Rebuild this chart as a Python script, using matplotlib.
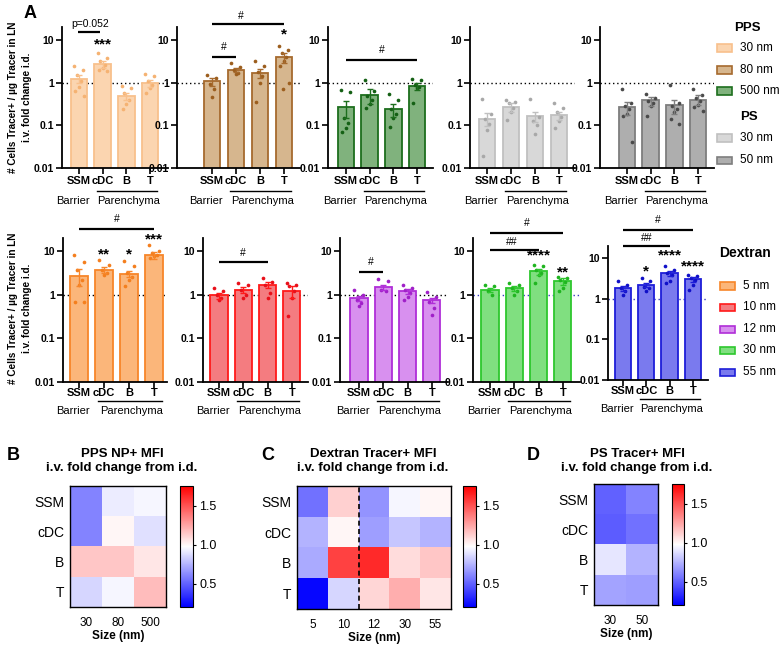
import matplotlib
matplotlib.use('Agg')
import matplotlib.pyplot as plt
from matplotlib.colors import Normalize
from matplotlib.patches import Rectangle
from matplotlib.ticker import NullLocator
import numpy as np

plt.rcParams['font.family'] = ['Liberation Sans', 'DejaVu Sans']

categories = ['SSM', 'cDC', 'B', 'T']

# panel A, top row: PPS / PS tracers
pps30_mean = [1.24, 2.72, 0.48, 0.98]
pps30_sem = [0.26, 0.48, 0.09, 0.19]
pps30_pts = [[2.4, 2.0, 1.53, 1.07, 0.79, 0.63, 0.48],
             [4.9, 3.75, 3.13, 2.6, 2.2, 2.0, 1.83],
             [0.85, 0.75, 0.58, 0.40, 0.31, 0.24],
             [1.6, 1.4, 1.07, 0.9, 0.75, 0.58]]

pps80_mean = [1.07, 2.0, 1.68, 3.88]
pps80_sem = [0.23, 0.2, 0.37, 1.02]
pps80_pts = [[1.5, 1.3, 0.95, 0.72, 0.45],
             [2.8, 2.3, 2.0, 1.7, 1.6],
             [3.2, 2.4, 1.8, 1.4, 1.0, 0.35],
             [7.0, 5.9, 4.8, 4.0, 3.2, 2.5, 1.0, 0.7]]

pps500_mean = [0.26, 0.50, 0.235, 0.82]
pps500_sem = [0.11, 0.19, 0.075, 0.16]
pps500_pts = [[0.66, 0.6, 0.15, 0.115, 0.088, 0.07],
              [1.17, 0.63, 0.48, 0.40, 0.31, 0.26],
              [0.53, 0.40, 0.235, 0.18, 0.15, 0.09],
              [1.22, 1.17, 0.9, 0.79, 0.75, 0.34]]

ps30_mean = [0.143, 0.27, 0.16, 0.17]
ps30_sem = [0.047, 0.06, 0.04, 0.04]
ps30_pts = [[0.42, 0.18, 0.138, 0.106, 0.078, 0.019],
            [0.40, 0.36, 0.33, 0.25, 0.2, 0.13],
            [0.42, 0.16, 0.125, 0.1, 0.062],
            [0.33, 0.25, 0.2, 0.16, 0.125, 0.087]]

ps50_mean = [0.26, 0.38, 0.29, 0.40]
ps50_sem = [0.09, 0.09, 0.11, 0.10]
ps50_pts = [[0.71, 0.34, 0.28, 0.235, 0.18, 0.165, 0.041],
            [0.55, 0.44, 0.37, 0.34, 0.29, 0.165],
            [0.9, 0.34, 0.29, 0.235, 0.2, 0.14, 0.106],
            [0.71, 0.5, 0.44, 0.37, 0.3, 0.27, 0.22]]

# panel A, bottom row: dextran tracers
dex5_mean = [2.73, 3.75, 2.99, 8.0]
dex5_sem = [1.17, 0.55, 0.44, 1.5]
dex5_pts = [[8.3, 5.6, 3.75, 2.2, 1.7, 0.70, 0.68],
            [6.4, 4.9, 3.75, 3.15, 2.9],
            [5.8, 4.5, 3.15, 2.6, 2.2, 1.55],
            [14.0, 9.9, 9.1, 8.3, 7.6, 7.0]]

dex10_mean = [0.97, 1.3, 1.7, 1.2]
dex10_sem = [0.15, 0.2, 0.3, 0.35]
dex10_pts = [[1.42, 1.19, 1.0, 0.84, 0.77],
             [1.86, 1.7, 1.3, 1.0, 0.84],
             [2.4, 2.0, 1.7, 1.1, 0.84],
             [1.86, 1.7, 1.55, 1.19, 0.84, 0.32]]

dex12_mean = [0.82, 1.47, 1.19, 0.74]
dex12_sem = [0.1, 0.2, 0.15, 0.1]
dex12_pts = [[1.3, 1.0, 0.77, 0.64, 0.54],
             [2.3, 2.1, 1.3, 1.19],
             [1.7, 1.4, 1.3, 1.1, 0.9, 0.77],
             [1.13, 0.91, 0.70, 0.49, 0.35]]

dex30_mean = [1.3, 1.42, 3.43, 2.02]
dex30_sem = [0.15, 0.18, 0.55, 0.35]
dex30_pts = [[1.7, 1.55, 1.19, 1.0],
             [1.86, 1.7, 1.42, 1.19, 1.0],
             [4.9, 4.5, 3.75, 3.15, 2.9, 1.86],
             [2.6, 2.4, 2.2, 2.0, 1.42, 1.19]]

dex55_mean = [1.84, 2.2, 4.3, 3.06]
dex55_sem = [0.25, 0.3, 0.6, 0.45]
dex55_pts = [[2.67, 2.2, 1.84, 1.52, 1.25],
             [3.24, 2.67, 2.0, 1.84, 1.52],
             [6.5, 5.2, 4.3, 3.9, 2.67, 2.44],
             [3.9, 3.56, 3.24, 2.95, 2.2, 1.67]]

# panels B-D: MFI fold change heatmaps (rows SSM, cDC, B, T)
pps_sizes = ['30', '80', '500']
pps_mfi = [[0.6, 0.92, 0.95],
           [0.6, 1.0, 0.88],
           [1.15, 1.15, 1.05],
           [0.85, 0.95, 1.18]]
dex_sizes = ['5', '10', '12', '30', '55']
dex_mfi = [[0.55, 1.12, 0.65, 0.95, 1.0],
           [0.75, 1.0, 0.68, 0.8, 0.75],
           [0.72, 1.55, 1.62, 1.08, 1.15],
           [0.22, 0.85, 1.1, 1.22, 1.05]]
ps_sizes = ['30', '50']
ps_mfi = [[0.5, 0.6],
          [0.48, 0.55],
          [0.9, 0.75],
          [0.7, 0.68]]

W, H = 783, 648
fig = plt.figure(figsize=(W / 100, H / 100), dpi=100)
jitter = [-0.2, 0.18, -0.1, 0.1, 0.0, -0.16, 0.2, -0.05, 0.12]


def px_axes(x0, y0, x1, y1):
    return fig.add_axes([x0 / W, 1 - y1 / H, (x1 - x0) / W, (y1 - y0) / H])


def fig_text(x, y, s, **kw):
    return fig.text(x / W, 1 - y / H, s, **kw)


def bar_panel(box, first, step, mean, sem, pts, fill, edge, dot, label_y, dot_line='black'):
    x0, y0, x1, y1 = box
    ax = px_axes(x0, y0, x1, y1)
    ax.set_yscale('log')
    xs = np.arange(4)
    ax.bar(xs, mean, width=0.7, bottom=0.001, color=fill, edgecolor=edge, lw=1.3, zorder=2)
    ax.errorbar(xs, mean, yerr=sem, fmt='none', ecolor=edge, elinewidth=1, capsize=2.5,
                capthick=1, zorder=4)
    for i, p in enumerate(pts):
        ax.scatter(i + np.array(jitter[:len(p)]), p, s=7, color=dot, lw=0, zorder=3)
    ax.axhline(1, color=dot_line, lw=1, ls=(0, (1, 2)), zorder=1)
    ax.set_ylim(0.01, 20)
    ax.set_xlim((x0 - first) / step, (x1 - first) / step)
    ax.set_yticks([0.01, 0.1, 1, 10])
    ax.set_yticklabels(['0.01', '0.1', '1', '10'], fontweight='bold', fontsize=7.5)
    ax.yaxis.set_minor_locator(NullLocator())
    ax.set_xticks(xs)
    ax.set_xticklabels([])
    ax.tick_params(length=4, width=1.2, pad=2)
    for s in ['top', 'right']:
        ax.spines[s].set_visible(False)
    for s in ['left', 'bottom']:
        ax.spines[s].set_linewidth(1.3)
    # distances (px) below the x axis of the three label rows
    yb, yl, yt = [v - y1 for v in label_y]
    for i, c in enumerate(categories):
        ax.annotate(c, xy=(i, 0), xycoords=('data', 'axes fraction'), xytext=(0, -yb),
                    textcoords='offset pixels', ha='center', va='center',
                    fontsize=8, fontweight='bold')
    ax.annotate('Barrier', xy=(-0.25, 0), xycoords=('data', 'axes fraction'), xytext=(0, -yt),
                textcoords='offset pixels', ha='center', va='center', fontsize=8)
    ax.annotate('Parenchyma', xy=(2.1, 0), xycoords=('data', 'axes fraction'), xytext=(0, -yt),
                textcoords='offset pixels', ha='center', va='center', fontsize=8)
    ax.plot([0.75, 3.3], [-yl / (y1 - y0)] * 2, transform=ax.get_xaxis_transform(),
            color='black', lw=1, clip_on=False)
    return ax


def sig_line(ax, xa, xb, y, lw=1.6):
    ax.plot([xa, xb], [y, y], color='black', lw=lw, clip_on=False, solid_capstyle='butt')


def sig_text(ax, x, y, s, size=7.5, bold=False):
    ax.text(x, y, s, ha='center', va='center', fontsize=size,
            fontweight='bold' if bold else 'normal', clip_on=False)


top_labels = (181, 191, 201)
bot_labels = (393, 401, 411)

ax1 = bar_panel((62, 27, 168, 168), 79, 23.7, pps30_mean, pps30_sem, pps30_pts,
                '#fbd5b0', '#f8c08c', '#f5b272', top_labels)
sig_text(ax1, 0.45, 23.5, 'p=0.052')
sig_line(ax1, -0.05, 0.9, 15.3)
sig_text(ax1, 1, 8.0, '***', size=11, bold=True)

ax2 = bar_panel((177, 27, 300, 168), 212, 24, pps80_mean, pps80_sem, pps80_pts,
                '#d6b68e', '#a66a2e', '#9c5e1e', top_labels)
sig_text(ax2, 1.2, 36, '#')
sig_line(ax2, 0, 3, 23.5)
sig_text(ax2, 0.5, 6.9, '#')
sig_line(ax2, 0, 1, 4.0)
sig_text(ax2, 3, 13.5, '*', size=11, bold=True)

ax3 = bar_panel((328, 27, 433, 168), 346, 23.7, pps500_mean, pps500_sem, pps500_pts,
                '#80b27d', '#1d6e1d', '#146014', top_labels)
sig_text(ax3, 1.5, 5.8, '#')
sig_line(ax3, 0, 3, 3.4)

ax4 = bar_panel((470, 27, 575, 168), 487, 24, ps30_mean, ps30_sem, ps30_pts,
                '#d8d8d8', '#c0c0c0', '#a8a8a8', top_labels)

ax5 = bar_panel((600, 27, 714, 168), 627, 23.7, ps50_mean, ps50_sem, ps50_pts,
                '#aeaeae', '#7e7e7e', '#4a4a4a', top_labels)

ax6 = bar_panel((63, 238, 167, 382), 79, 25, dex5_mean, dex5_sem, dex5_pts,
                '#fbb67a', '#f7862a', '#f47f1e', bot_labels)
sig_text(ax6, 1.5, 55, '#')
sig_line(ax6, 0, 3, 32.8)
sig_text(ax6, 1, 8.5, '**', size=11, bold=True)
sig_text(ax6, 2, 8.5, '*', size=11, bold=True)
sig_text(ax6, 3, 19, '***', size=11, bold=True)

ax7 = bar_panel((203, 238, 308, 382), 219, 24.3, dex10_mean, dex10_sem, dex10_pts,
                '#f47c80', '#ff1a1a', '#e8101a', bot_labels)
sig_text(ax7, 1, 9.2, '#')
sig_line(ax7, 0, 2, 5.7)

ax8 = bar_panel((340, 238, 448, 382), 359, 24.3, dex12_mean, dex12_sem, dex12_pts,
                '#d890ef', '#b02ed8', '#a020c8', bot_labels)
sig_text(ax8, 0.5, 5.7, '#')
sig_line(ax8, 0, 1, 3.38)

ax9 = bar_panel((473, 238, 580, 382), 490, 24.3, dex30_mean, dex30_sem, dex30_pts,
                '#80df80', '#2ec72e', '#20b520', bot_labels, dot_line='#3a3ac0')
sig_text(ax9, 1.5, 45, '#')
sig_line(ax9, 0, 3, 26.6)
sig_text(ax9, 0.9, 16.6, '##')
sig_line(ax9, 0, 2, 10.8)
sig_text(ax9, 2, 8.0, '****', size=11, bold=True)
sig_text(ax9, 3, 3.3, '**', size=11, bold=True)

ax10 = bar_panel((608, 246, 708, 380), 623, 23.3, dex55_mean, dex55_sem, dex55_pts,
                 '#7a7aee', '#1e1ed8', '#1010c8', (391, 399, 409), dot_line='#3a3ac0')
sig_text(ax10, 1.5, 89, '#')
sig_line(ax10, 0, 3, 50.5)
sig_text(ax10, 1, 32, '##')
sig_line(ax10, 0, 2, 20)
sig_text(ax10, 1, 4.8, '*', size=11, bold=True)
sig_text(ax10, 2, 12, '****', size=11, bold=True)
sig_text(ax10, 3, 6.4, '****', size=11, bold=True)

# y labels and panel letter
ylab = '# Cells Tracer+ / µg Tracer in LN\ni.v. fold change i.d.'
fig_text(20, 97, ylab, rotation=90, ha='center', va='center', fontsize=7.2,
         fontweight='bold', linespacing=1.45)
fig_text(20, 308, ylab, rotation=90, ha='center', va='center', fontsize=7.2,
         fontweight='bold', linespacing=1.45)
fig_text(30, 13, 'A', ha='center', va='center', fontsize=13, fontweight='bold')


def legend_patch(x, y, w, fill, edge):
    fig.add_artist(Rectangle((x / W, 1 - (y + 3.5) / H), w / W, 7 / H, facecolor=fill,
                             edgecolor=edge, lw=1.2, transform=fig.transFigure))


fig_text(747, 28, 'PPS', ha='center', va='center', fontsize=9.5, fontweight='bold')
for y, lab, fc, ec in [(48, '30 nm', '#fbd5b0', '#f8c08c'), (70, '80 nm', '#d6b68e', '#a66a2e'),
                       (91, '500 nm', '#80b27d', '#1d6e1d')]:
    legend_patch(717, y, 15, fc, ec)
    fig_text(740, y, lab, va='center', fontsize=8.5)
fig_text(749, 117, 'PS', ha='center', va='center', fontsize=9.5, fontweight='bold')
for y, lab, fc, ec in [(138, '30 nm', '#d8d8d8', '#c0c0c0'), (160, '50 nm', '#aeaeae', '#7e7e7e')]:
    legend_patch(717, y, 15, fc, ec)
    fig_text(740, y, lab, va='center', fontsize=8.5)

fig_text(745, 253, 'Dextran', ha='center', va='center', fontsize=10, fontweight='bold')
for y, lab, fc, ec in [(286, '5 nm', '#fbb67a', '#f7862a'), (307, '10 nm', '#f47c80', '#ff1a1a'),
                       (329, '12 nm', '#d890ef', '#b02ed8'), (350, '30 nm', '#80df80', '#2ec72e'),
                       (372, '55 nm', '#7a7aee', '#1e1ed8')]:
    legend_patch(720, y, 15, fc, ec)
    fig_text(743, y, lab, va='center', fontsize=8.5)

# heatmaps
norm = Normalize(0.2, 1.75)


def heat_panel(box, cbox, data, sizes, title, title_x, letter, letter_x):
    ax = px_axes(*box)
    im = ax.imshow(np.array(data), cmap='bwr', norm=norm, aspect='auto')
    ax.set_yticks(range(4))
    ax.set_yticklabels(categories, fontsize=10)
    ax.set_xticks(range(len(sizes)))
    ax.set_xticklabels(sizes, fontsize=8.5)
    ax.tick_params(length=0, pad=4)
    ax.tick_params(axis='x', pad=7)
    ax.set_xlabel('Size (nm)', fontsize=8.5, fontweight='bold', labelpad=1)
    for s in ax.spines.values():
        s.set_linewidth(1)
    cax = px_axes(*cbox)
    cb = fig.colorbar(im, cax=cax, ticks=[0.5, 1.0, 1.5])
    cb.ax.set_yticklabels(['0.5', '1.0', '1.5'], fontsize=9)
    cb.ax.tick_params(length=2.5, width=0.8, pad=2)
    cb.outline.set_linewidth(0.8)
    fig_text(title_x, 461, title, ha='center', va='center', fontsize=9.5,
             fontweight='bold', linespacing=1.2)
    fig_text(letter_x, 455, letter, ha='center', va='center', fontsize=13, fontweight='bold')
    return ax


heat_panel((70, 486, 166, 607), (180, 486, 193, 607), pps_mfi, pps_sizes,
           'PPS NP+ MFI\ni.v. fold change from i.d.', 122, 'B', 13)
axc = heat_panel((297, 486, 451, 609), (463, 486, 476, 607), dex_mfi, dex_sizes,
                 'Dextran Tracer+ MFI\ni.v. fold change from i.d.', 373, 'C', 268)
axc.axvline(1.5, color='black', lw=1.2, ls=(0, (3, 2)))
heat_panel((594, 484, 658, 605), (672, 484, 684, 605), ps_mfi, ps_sizes,
           'PS Tracer+ MFI\ni.v. fold change from i.d.', 637, 'D', 533)

fig.savefig('out.png', dpi=100)
